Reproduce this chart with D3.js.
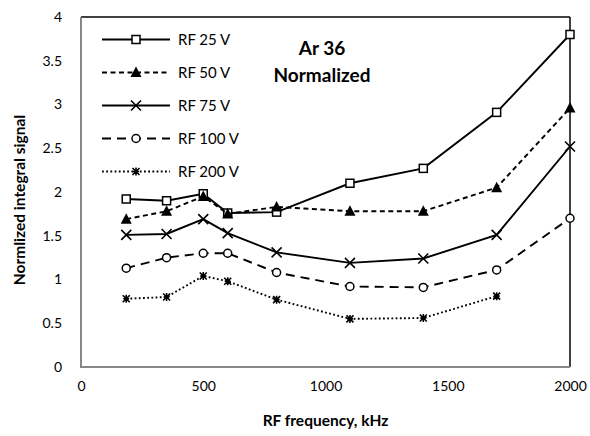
<!DOCTYPE html>
<html>
<head>
<meta charset="utf-8">
<script src="https://cdn.jsdelivr.net/npm/d3@7"></script>
<style>
  body { margin: 0; background: #fff; }
  svg { display: block; font-family: Lato, "Open Sans", sans-serif; }
</style>
</head>
<body>
<svg id="chart" width="590" height="436"></svg>
<script>
// RF frequency (kHz) and normalized integral signal for each RF voltage
const frequency = [185, 350, 500, 600, 800, 1100, 1400, 1700, 2000];
const rf25  = [1.92, 1.90, 1.98, 1.76, 1.77, 2.10, 2.27, 2.91, 3.80];
const rf50  = [1.69, 1.78, 1.95, 1.75, 1.83, 1.78, 1.78, 2.05, 2.96];
const rf75  = [1.51, 1.52, 1.69, 1.53, 1.31, 1.19, 1.24, 1.51, 2.52];
const rf100 = [1.13, 1.25, 1.30, 1.30, 1.08, 0.92, 0.91, 1.11, 1.70];
const rf200 = [0.78, 0.80, 1.04, 0.98, 0.77, 0.55, 0.56, 0.81, null];
const seriesNames = ["RF 25 V", "RF 50 V", "RF 75 V", "RF 100 V", "RF 200 V"];
const xTicks = [0, 500, 1000, 1500, 2000];
const yTicks = [0, 0.5, 1, 1.5, 2, 2.5, 3, 3.5, 4];

const series = [
  { name: seriesNames[0], values: rf25,  dash: null,      marker: "square" },
  { name: seriesNames[1], values: rf50,  dash: "5,3.5",   marker: "triangle" },
  { name: seriesNames[2], values: rf75,  dash: null,      marker: "cross" },
  { name: seriesNames[3], values: rf100, dash: "9,6",     marker: "circle" },
  { name: seriesNames[4], values: rf200, dash: "1.8,2.4", marker: "star" }
];

const svg = d3.select("#chart");
const plotL = 81, plotR = 570, plotT = 17, plotB = 367;

const x = d3.scaleLinear().domain([0, 2000]).range([plotL, plotR]);
const y = d3.scaleLinear().domain([0, 4]).range([plotB, plotT]);

// plot frame: black top/right, grey axis lines left/bottom
svg.append("line").attr("x1", plotL).attr("x2", plotR).attr("y1", plotT).attr("y2", plotT)
  .attr("stroke", "#000").attr("stroke-width", 1.5);
svg.append("line").attr("x1", plotR).attr("x2", plotR).attr("y1", plotT).attr("y2", plotB)
  .attr("stroke", "#000").attr("stroke-width", 1.5);

// axes (labels only; axis lines drawn below)
const yAxis = svg.append("g").attr("transform", `translate(${plotL},0)`)
  .call(d3.axisLeft(y).tickValues(yTicks).tickSize(0).tickPadding(19).tickFormat(d => d));
const xAxis = svg.append("g").attr("transform", `translate(0,${plotB})`)
  .call(d3.axisBottom(x).tickValues(xTicks).tickSize(0).tickPadding(14).tickFormat(d => d));
[yAxis, xAxis].forEach(g => {
  g.select(".domain").remove();
  g.selectAll("text").attr("font-size", 14).attr("fill", "#000")
    .attr("font-family", "Lato, 'Open Sans', sans-serif");
});

svg.append("line").attr("x1", plotL).attr("x2", plotL).attr("y1", plotT).attr("y2", plotB + 1)
  .attr("stroke", "#878787").attr("stroke-width", 2);
svg.append("line").attr("x1", plotL).attr("x2", plotR).attr("y1", plotB).attr("y2", plotB)
  .attr("stroke", "#878787").attr("stroke-width", 2);

// axis titles
svg.append("text").attr("x", (plotL + plotR) / 2).attr("y", 426)
  .attr("text-anchor", "middle").attr("font-weight", "bold").attr("font-size", 15.5)
  .text("RF frequency, kHz");
svg.append("text").attr("transform", `translate(25,${(plotT + plotB) / 2 + 8}) rotate(-90)`)
  .attr("text-anchor", "middle").attr("font-weight", "bold").attr("font-size", 15.5)
  .text("Normlized integral signal");

// annotation
svg.append("text").attr("x", 322).attr("y", 55).attr("text-anchor", "middle")
  .attr("font-weight", "bold").attr("font-size", 19).text("Ar 36");
svg.append("text").attr("x", 322).attr("y", 82).attr("text-anchor", "middle")
  .attr("font-weight", "bold").attr("font-size", 19).text("Normalized");

function drawMarker(g, type, cx, cy) {
  const m = g.append("g").attr("transform", `translate(${cx},${cy})`);
  if (type === "square") {
    m.append("rect").attr("x", -4).attr("y", -4).attr("width", 8).attr("height", 8)
      .attr("fill", "#fff").attr("stroke", "#000").attr("stroke-width", 1.5);
  } else if (type === "triangle") {
    m.append("path").attr("d", "M0,-6L5.5,4.5L-5.5,4.5Z").attr("fill", "#000");
  } else if (type === "cross") {
    m.append("path").attr("d", "M-5,-5L5,5M-5,5L5,-5").attr("stroke", "#000")
      .attr("stroke-width", 1.6).attr("fill", "none");
  } else if (type === "circle") {
    m.append("circle").attr("r", 4).attr("fill", "#fff").attr("stroke", "#000").attr("stroke-width", 1.5);
  } else if (type === "star") {
    m.append("path").attr("d", "M-3.5,-3.5L3.5,3.5M-3.5,3.5L3.5,-3.5M0,-4L0,4M-3,0L3,0")
      .attr("stroke", "#000").attr("stroke-width", 1.6).attr("fill", "none");
  }
}

const line = d3.line().defined(d => d.v != null).x(d => x(d.f)).y(d => y(d.v));

series.forEach(s => {
  const pts = frequency.map((f, i) => ({ f, v: s.values[i] }));
  svg.append("path").datum(pts).attr("d", line).attr("fill", "none")
    .attr("stroke", "#000").attr("stroke-width", 1.9)
    .attr("stroke-dasharray", s.dash);
  const g = svg.append("g");
  pts.filter(d => d.v != null).forEach(d => drawMarker(g, s.marker, x(d.f), y(d.v)));
});

// legend
const legend = svg.append("g");
series.forEach((s, i) => {
  const ly = 39.5 + i * 33;
  legend.append("line").attr("x1", 102).attr("x2", 170).attr("y1", ly).attr("y2", ly)
    .attr("stroke", "#000").attr("stroke-width", 1.9).attr("stroke-dasharray", s.dash);
  drawMarker(legend, s.marker, 136, ly);
  legend.append("text").attr("x", 178).attr("y", ly + 5).attr("font-size", 15).text(s.name);
});
</script>
</body>
</html>
